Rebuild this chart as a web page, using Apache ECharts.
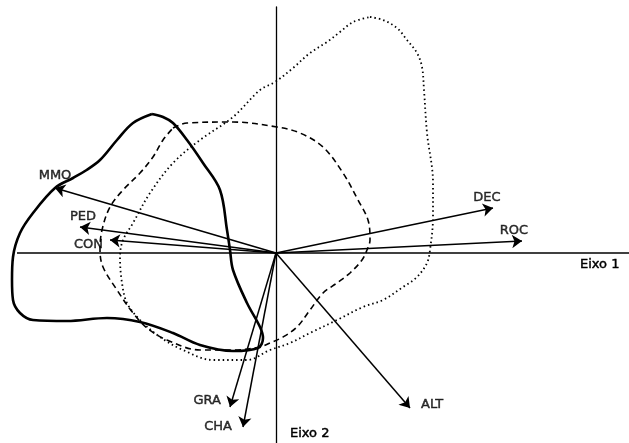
<!DOCTYPE html>
<html>
<head>
<meta charset="utf-8">
<script src="https://cdn.jsdelivr.net/npm/echarts@6/dist/echarts.min.js"></script>
<style>
  html, body { margin: 0; padding: 0; background: #fff; }
  #chart { width: 629px; height: 443px; }
</style>
</head>
<body>
<div id="chart"></div>
<script>
// variáveis (vetores)
const varNames = ["MMO", "PED", "CON", "DEC", "ROC", "ALT", "GRA", "CHA"];
const varX = [-221, -196, -166, 217, 246, 134, -46, -33];
const varY = [65, 26, 13, 45, 12, -155, -154, -174];

// contornos dos grupos
const solidX = [-124, -143, -159, -176, -191, -203, -221, -243, -256, -263, -264, -263, -256, -243, -209, -169, -136, -103, -76, -43, -18, -13, -16, -29, -43, -46, -49, -56, -73, -89, -103, -113, -124];
const solidY = [139, 130, 113, 93, 82, 75, 65, 40, 20, -4, -27, -47, -60, -67, -68, -65, -69, -80, -92, -98, -95, -85, -74, -50, -17, 3, 23, 63, 90, 113, 130, 136, 139];

const dashedX = [-103, -89, -43, 1, 24, 47, 67, 82, 92, 94, 91, 86, 74, 61, 47, 34, 21, 7, -6, -16, -43, -76, -109, -129, -143, -159, -173, -176, -174, -166, -153, -136, -123, -113, -103];
const dashedY = [125, 130, 131, 126, 120, 106, 80, 53, 33, 13, 3, -7, -20, -30, -40, -57, -74, -84, -90, -94, -97, -97, -87, -75, -60, -37, -14, 3, 23, 46, 63, 80, 96, 113, 125];

const dottedX = [94, 107, 121, 131, 141, 146, 148, 151, 157, 157, 154, 151, 141, 127, 107, 87, 61, 34, 14, -6, -29, -63, -93, -116, -136, -149, -154, -156, -153, -143, -126, -103, -76, -43, -16, -1, 17, 34, 51, 64, 77, 94];
const dottedY = [236, 233, 225, 213, 200, 186, 163, 120, 70, 36, 3, -10, -24, -34, -47, -54, -67, -80, -90, -97, -107, -107, -97, -84, -67, -50, -30, -4, 13, 30, 60, 90, 113, 136, 163, 171, 185, 200, 211, 221, 231, 236];

// eixos
const axisNames = ["Eixo 1", "Eixo 2"];
const eixo1Range = [-259, 353];

const font = "DejaVu Sans";

// posição dos rótulos em relação à ponta da seta
const labelPos = {
  MMO: { position: "top", offset: [0, -1] },
  PED: { position: "top", offset: [3, 1] },
  CON: { position: "left", offset: [-2, 5] },
  DEC: { position: "top", offset: [-6, 1] },
  ROC: { position: "top", offset: [-8, 1] },
  ALT: { position: "right", offset: [6, -3] },
  GRA: { position: "left", offset: [-4, -6] },
  CHA: { position: "left", offset: [-6, 0] }
};

const zip = (xs, ys) => xs.map((x, i) => [x, ys[i]]);

let chart = echarts.init(document.getElementById("chart"));

let arrows = varNames.map((n, i) => ({ coords: [[0, 0], [varX[i], varY[i]]] }));
let tips = varNames.map((n, i) => ({
  name: n,
  value: [varX[i], varY[i]],
  label: labelPos[n]
}));

const curve = (data, type, width) => ({
  type: "line",
  data: data,
  smooth: 0.35,
  symbol: "none",
  silent: true,
  lineStyle: { color: "#000", width: width, type: type }
});

const textStyle = {
  color: "#000",
  fontFamily: font,
  fontSize: 13,
  textBorderColor: "#000",
  textBorderWidth: 0.45
};

let option = {
  animation: false,
  backgroundColor: "#fff",
  grid: { left: 0, right: 0, top: 7, bottom: 0 },
  xAxis: {
    type: "value",
    min: -276,
    max: 353,
    name: axisNames[0],
    nameLocation: "end",
    nameGap: -49,
    nameTextStyle: Object.assign({}, textStyle, { verticalAlign: "top", padding: [5, 0, 0, 0] }),
    axisLine: { show: false, onZero: true },
    axisTick: { show: false },
    axisLabel: { show: false },
    splitLine: { show: false }
  },
  yAxis: {
    type: "value",
    min: -190,
    max: 246,
    name: axisNames[1],
    nameLocation: "start",
    nameGap: -16,
    nameTextStyle: Object.assign({}, textStyle, { align: "left", padding: [0, 0, 0, 14] }),
    axisLine: { onZero: true, lineStyle: { color: "#000", width: 1.3 } },
    axisTick: { show: false },
    axisLabel: { show: false },
    splitLine: { show: false }
  },
  series: [
    {
      // Eixo 1 (começa um pouco depois da borda esquerda)
      type: "line",
      data: [[eixo1Range[0], 0], [eixo1Range[1], 0]],
      symbol: "none",
      silent: true,
      lineStyle: { color: "#000", width: 1.3 }
    },
    curve(zip(solidX, solidY), "solid", 2.6),
    curve(zip(dashedX, dashedY), [6, 4], 1.6),
    curve(zip(dottedX, dottedY), [1.5, 3], 1.8),
    {
      type: "lines",
      coordinateSystem: "cartesian2d",
      data: arrows,
      symbol: ["none", "arrow"],
      symbolSize: 10,
      silent: true,
      lineStyle: { color: "#000", width: 1.5, opacity: 1 }
    },
    {
      type: "scatter",
      data: tips,
      symbolSize: 0,
      silent: true,
      label: Object.assign({ show: true, formatter: "{b}", distance: 5 }, textStyle)
    }
  ]
};

chart.setOption(option);
</script>
</body>
</html>
